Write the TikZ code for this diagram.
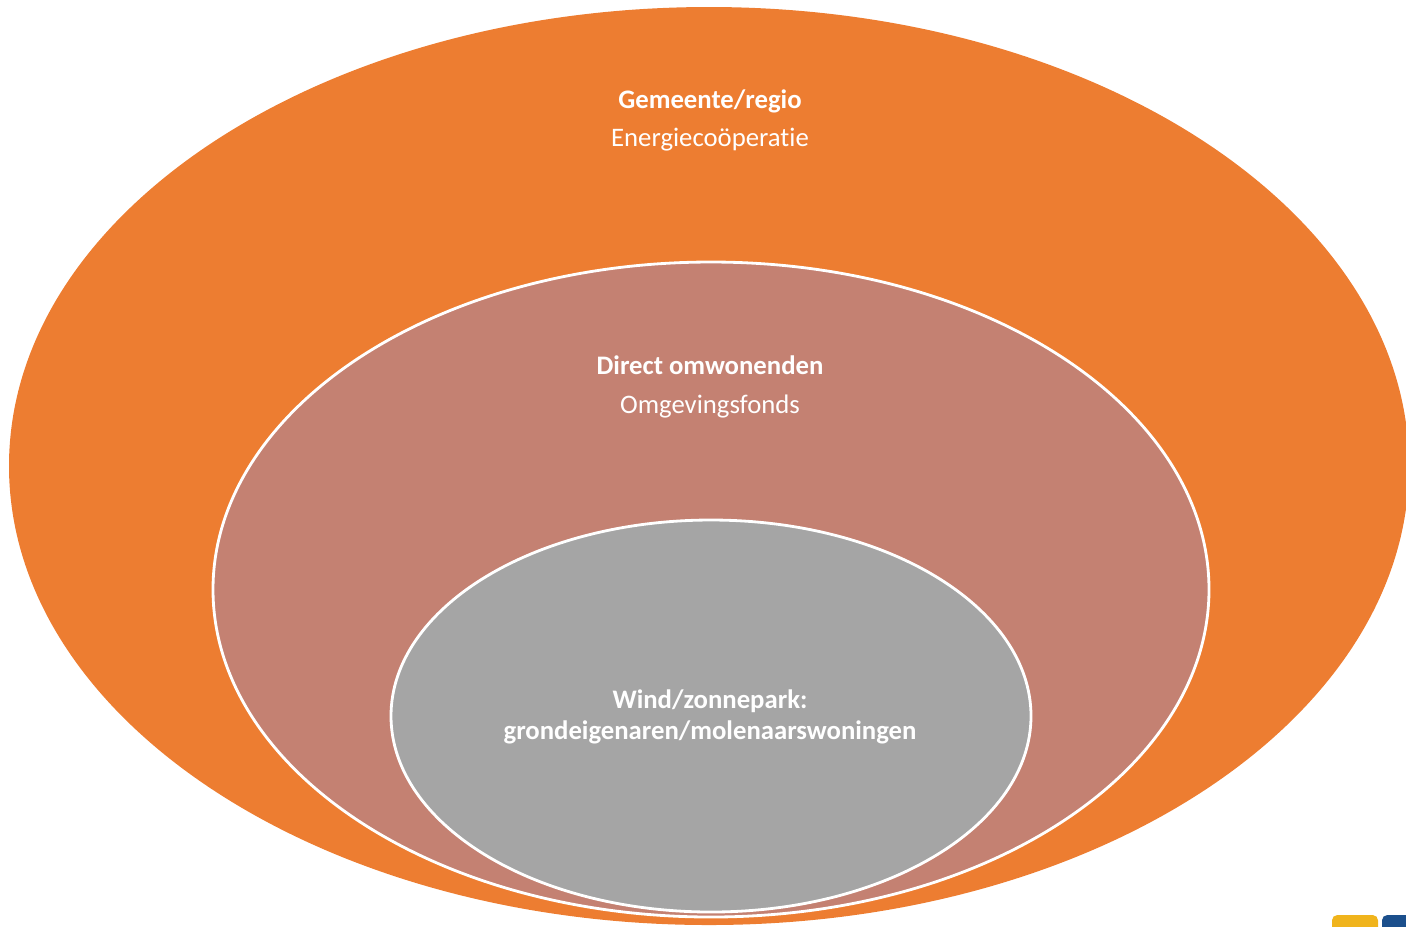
\documentclass[tikz,border=0pt]{standalone}
\usepackage{fontspec}
\setmainfont[Ligatures=NoCommon]{Carlito}
\usepackage{tikz}
\usetikzlibrary{positioning}

\definecolor{ringorange}{HTML}{ED7D31}
\definecolor{ringrose}{HTML}{C48172}
\definecolor{ringgray}{HTML}{A5A5A5}
\definecolor{logoyellow}{HTML}{F0B41C}
\definecolor{logoblue}{HTML}{1B4F8C}

\tikzset{
	ring/.style={draw=white, line width=0.8pt},
	label/.style={text=white, font=\fontsize{7.6}{9.0}\selectfont, align=center, inner sep=0pt},
	boldlabel/.style={label, font=\fontsize{7.6}{9.0}\selectfont\bfseries},
}

\begin{document}
\begin{tikzpicture}[x=0.01cm, y=-0.01cm]
		
		\useasboundingbox (0,0) rectangle (1406,926);
		
		% rings
		\fill[ringorange] (709,466) ellipse (700 and 459);
		\draw[ring, fill=ringrose] (711,589.5) ellipse (498 and 327.5);
		\draw[ring, fill=ringgray] (711,716) ellipse (320 and 196);
		
		% texts
		\node[boldlabel] (gemeente) at (710,101) {Gemeente/regio};
		\node[label] (coop) at (710,140) {Energiecoöperatie};
		
		\node[boldlabel] (omwonenden) at (710,365) {Direct omwonenden};
		\node[label] (fonds) at (710,406) {Omgevingsfonds};
		
		\node[boldlabel] (park) at (710,717) {Wind/zonnepark:\\grondeigenaren/molenaarswoningen};
		
		% logo corner
		\fill[logoyellow, rounded corners=1.5pt] (1332,915) rectangle (1378,940);
		\fill[logoblue, rounded corners=1.5pt] (1382,915) rectangle (1420,940);
		
	\end{tikzpicture}
\end{document}
